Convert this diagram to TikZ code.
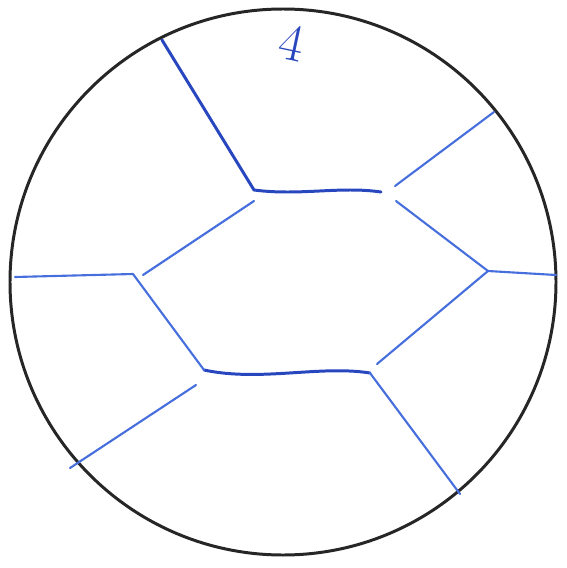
\documentclass[tikz,border=0pt]{standalone}
\usepackage{tikz}
\usetikzlibrary{arrows.meta,calc}
\definecolor{inkdark}{RGB}{40,70,190}
\definecolor{inklight}{RGB}{70,110,220}

\begin{document}
\begin{tikzpicture}[x=0.02cm,y=-0.02cm,
  wall/.style={line width=1.7pt,inkdark,line cap=round,line join=round},
  edge/.style={line width=1.2pt,inklight,line cap=round,line join=round}]
  \useasboundingbox (0,0) rectangle (566,568);
  % the disc
  \coordinate (C) at (283,282);
  \draw[line width=1.7pt,black!85] (C) circle (273*0.02cm);
  % corners of the cell
  \coordinate (TL) at (254,190);
  \coordinate (TR) at (381,192);
  \coordinate (R) at (488,271);
  \coordinate (BR) at (370,373);
  \coordinate (BL) at (204,370);
  \coordinate (L) at (133,274);
  % free ends at the rim
  \coordinate (A1) at (162,40);
  \coordinate (A2) at (494,112);
  \coordinate (A3) at (556,275);
  \coordinate (A4) at (460,494);
  \coordinate (A5) at (70,468);
  \coordinate (A6) at (15,277);
  % short gaps at the corners
  \coordinate (G1) at (395,186);
  \coordinate (G2) at (396,201);
  \coordinate (G3) at (143,275);
  \coordinate (G4) at (196,385);
  \coordinate (G5) at (377,364);
  \coordinate (G6) at (254,201);
  \draw[wall] (A1) -- (TL) .. controls (300,196) and (340,186) .. (TR);
  \draw[wall] (BL) .. controls (260,382) and (320,365) .. (BR);
  \draw[edge] (G1) -- (A2);
  \draw[edge] (G2) -- (R) -- (A3);
  \draw[edge] (R) -- (G5);
  \draw[edge] (G3) -- (G6);
  \draw[edge] (A6) -- (L) -- (BL);
  \draw[edge] (BR) -- (A4);
  \draw[edge] (G4) -- (A5);
  \node[inkdark,rotate=-12] (lab) at (292,43) {\fontsize{30}{30}\selectfont 4};
\end{tikzpicture}
\end{document}
